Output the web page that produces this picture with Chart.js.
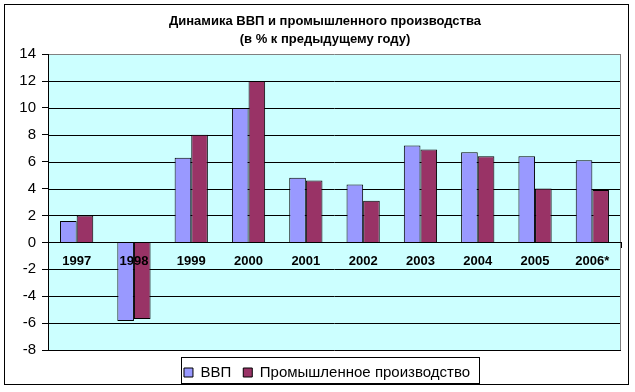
<!DOCTYPE html>
<html>
<head>
<meta charset="utf-8">
<script src="https://cdn.jsdelivr.net/npm/chart.js@4"></script>
<style>
  html, body { margin: 0; padding: 0; background: #fff; }
  canvas { display: block; }
</style>
</head>
<body>
<canvas id="chart1"></canvas>
<script>
// данные
const years = ['1997', '1998', '1999', '2000', '2001', '2002', '2003', '2004', '2005', '2006*'];
const gdp = [1.6, -5.85, 6.3, 10.0, 4.8, 4.3, 7.2, 6.7, 6.4, 6.1];
const industry = [2.0, -5.7, 8.0, 12.0, 4.6, 3.1, 6.9, 6.4, 4.0, 3.9];
const yTicks = [-8, -6, -4, -2, 0, 2, 4, 6, 8, 10, 12, 14];

const FONT = "'Liberation Sans', Arial, sans-serif";

const canvas = document.getElementById('chart1');
canvas.width = 635;
canvas.height = 392;
const ctx = canvas.getContext('2d');

// фон области построения + сетка (рисуем перед столбцами)
const framePlugin = {
  id: 'frame',
  afterLayout(chart) {
    // легенда и заголовок чуть правее центра, как в оригинале
    chart.legend.left += 14;
    chart.legend.right += 14;
    if (chart.titleBlock) {
      chart.titleBlock.left += 12;
      chart.titleBlock.right += 12;
    }
  },
  beforeDatasetsDraw(chart) {
    const c = chart.ctx;
    const a = chart.chartArea;
    const y = chart.scales.y;
    c.save();
    c.fillStyle = '#CCFFFF';
    c.fillRect(a.left, a.top, a.right - a.left, a.bottom - a.top);
    c.lineWidth = 1;
    yTicks.forEach((v) => {
      const py = Math.round(y.getPixelForValue(v)) + 0.5;
      c.strokeStyle = v === yTicks[yTicks.length - 1] ? '#808080' : '#000';
      c.beginPath();
      c.moveTo(a.left, py);
      c.lineTo(a.right, py);
      c.stroke();
    });
    c.strokeStyle = '#808080';
    c.beginPath();
    c.moveTo(Math.round(a.right) - 0.5, a.top);
    c.lineTo(Math.round(a.right) - 0.5, a.bottom);
    c.stroke();
    c.restore();
  },
  afterDraw(chart) {
    const c = chart.ctx;
    c.save();
    c.strokeStyle = '#000';
    c.lineWidth = 1;
    // рамка вокруг всей диаграммы
    c.strokeRect(4.5, 4.5, 624, 380);
    // рамка легенды
    const boxes = chart.legend.legendHitBoxes;
    if (boxes && boxes.length) {
      const l = Math.min(...boxes.map(b => b.left)) - 3;
      const r = Math.max(...boxes.map(b => b.left + b.width)) + 9;
      c.strokeRect(Math.round(l) + 0.5, 357.5, Math.round(r - l), 26);
    }
    c.restore();
  }
};

new Chart(ctx, {
  type: 'bar',
  data: {
    labels: years,
    datasets: [
      {
        label: 'ВВП',
        data: gdp,
        backgroundColor: '#9999FF',
        borderColor: '#000',
        borderWidth: 1,
      },
      {
        label: 'Промышленное производство',
        data: industry,
        backgroundColor: '#993366',
        borderColor: '#000',
        borderWidth: 1,
      },
    ],
  },
  options: {
    responsive: false,
    maintainAspectRatio: false,
    animation: false,
    layout: { padding: { left: 5, right: 14, top: 0, bottom: 2 } },
    datasets: {
      bar: { categoryPercentage: 0.58, barPercentage: 1.0 },
    },
    plugins: {
      title: {
        display: true,
        text: ['Динамика ВВП и промышленного производства', '(в % к предыдущему году)'],
        color: '#000',
        font: { family: FONT, size: 13, weight: 'bold', lineHeight: 1.35 },
        padding: { top: 13, bottom: 6 },
      },
      legend: {
        position: 'bottom',
        onClick: () => {},
        labels: {
          color: '#000',
          font: { family: FONT, size: 15 },
          boxWidth: 9,
          boxHeight: 9,
          padding: 12,
        },
      },
      tooltip: { enabled: false },
    },
    scales: {
      x: {
        type: 'category',
        position: { y: 0 },
        offset: true,
        grid: {
          offset: true,
          drawOnChartArea: false,
          drawTicks: true,
          tickLength: 5,
          color: '#000',
        },
        border: { color: '#000', width: 1, z: 1 },
        ticks: {
          z: 1,
          color: '#000',
          padding: 6,
          maxRotation: 0,
          autoSkip: false,
          font: { family: FONT, size: 13, weight: 'bold' },
        },
      },
      x2: {
        type: 'category',
        position: 'bottom',
        labels: years,
        grid: { display: false },
        border: { display: false },
        ticks: { display: false },
        afterFit: (s) => { s.height = 3; },
      },
      y: {
        type: 'linear',
        min: yTicks[0],
        max: yTicks[yTicks.length - 1],
        afterBuildTicks: (s) => { s.ticks = yTicks.map(v => ({ value: v })); },
        afterFit: (s) => { s.width = 43; },
        grid: {
          drawOnChartArea: false,
          drawTicks: true,
          color: '#000',
          tickLength: 6,
          lineWidth: 1,
        },
        border: { color: '#000', width: 1, z: 1 },
        ticks: {
          color: '#000',
          padding: 6,
          font: { family: FONT, size: 15 },
        },
      },
    },
  },
  plugins: [framePlugin],
});
</script>
</body>
</html>
